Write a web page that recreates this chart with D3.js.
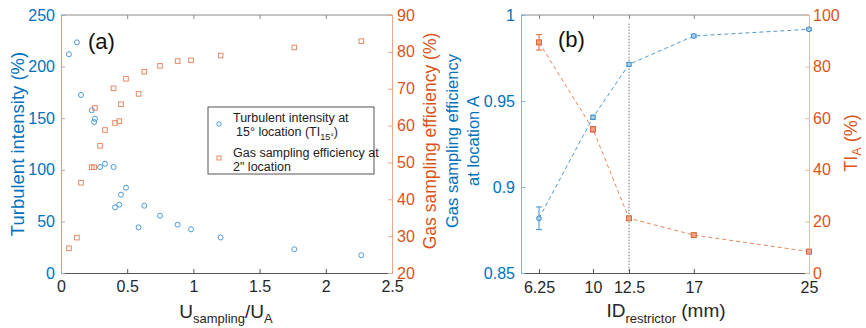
<!DOCTYPE html>
<html>
<head>
<meta charset="utf-8">
<script src="https://cdn.jsdelivr.net/npm/d3@7"></script>
<style>
  body { margin: 0; background: #fff; }
  svg { display: block; font-family: "Liberation Sans", Arial, sans-serif; }
</style>
</head>
<body>
<svg id="chart" width="866" height="328"></svg>
<script>
// ---- panel (a) data ----
var uRatio = [0.06, 0.12, 0.151, 0.232, 0.25, 0.256, 0.295, 0.332, 0.397, 0.408, 0.44,
              0.453, 0.491, 0.586, 0.629, 0.748, 0.881, 0.982, 1.206, 1.762, 2.268];
var tiValues = [212, 223.5, 172.5, 157.6, 146.3, 149.5, 102.7, 105.9, 102.7, 63.6, 66.2,
                75.9, 82.7, 44.3, 65.2, 55.5, 46.8, 42.3, 34.4, 23, 17.2];
var effValues = [26.7, 29.6, 44.5, 48.7, 48.7, 64.8, 54.5, 58.8, 70.1, 60.7, 61.2,
                 65.8, 72.7, 68.6, 74.6, 76.2, 77.5, 77.7, 79.0, 81.2, 82.9];
var aXTicks = [0, 0.5, 1, 1.5, 2, 2.5];
var aLeftTicks = [0, 50, 100, 150, 200, 250];
var aRightTicks = [20, 30, 40, 50, 60, 70, 80, 90];

// ---- panel (b) data ----
var restrictorID = [6.25, 10, 12.5, 17, 25];
var effA = [0.8818, 0.9405, 0.9713, 0.9878, 0.9917];
var effAErr = [0.0066, 0.0012, 0.001, 0.001, 0.0008];
var tiA = [89.4, 55.7, 21.2, 14.7, 8.3];
var tiAErr = [3, 1, 0.6, 0.5, 0.4];
var bXTicks = [6.25, 10, 12.5, 17, 25];
var bLeftTicks = [0.85, 0.9, 0.95, 1];
var bRightTicks = [0, 20, 40, 60, 80, 100];

var blue = "#0072BD", orange = "#D95319", dark = "#262626";
var svg = d3.select("#chart");

function styleAxis(g, color, lineColor) {
  g.select(".domain").attr("stroke", lineColor).attr("stroke-width", 1);
  g.selectAll(".tick line").attr("stroke", lineColor);
  g.selectAll(".tick text").attr("fill", color).style("font-size", "16px");
}

// ================= panel (a) =================
var A = { left: 61, right: 392, top: 15, bottom: 273 };
var xa = d3.scaleLinear().domain([0, 2.5]).range([A.left, A.right]);
var ya = d3.scaleLinear().domain([0, 250]).range([A.bottom, A.top]);
var yaR = d3.scaleLinear().domain([20, 90]).range([A.bottom, A.top]);

// top frame
svg.append("line").attr("x1", A.left).attr("x2", A.right).attr("y1", A.top).attr("y2", A.top)
  .attr("stroke", "#8a8a8a");
svg.append("g").attr("transform", "translate(0," + A.top + ")")
  .call(d3.axisTop(xa).tickValues(aXTicks).tickSize(-4).tickFormat(""))
  .call(function (g) { g.select(".domain").remove(); g.selectAll(".tick line").attr("stroke", "#8a8a8a"); });

svg.append("g").attr("transform", "translate(0," + A.bottom + ")")
  .call(d3.axisBottom(xa).tickValues(aXTicks).tickSize(-4).tickPadding(8).tickFormat(function (d) { return String(d); }))
  .call(function (g) { styleAxis(g, dark, "#555"); });

svg.append("g").attr("transform", "translate(" + A.left + ",0)")
  .call(d3.axisLeft(ya).tickValues(aLeftTicks).tickSize(-4).tickPadding(6))
  .call(function (g) { styleAxis(g, blue, "#7fb3dd"); });

svg.append("g").attr("transform", "translate(" + A.right + ",0)")
  .call(d3.axisRight(yaR).tickValues(aRightTicks).tickSize(-4).tickPadding(5))
  .call(function (g) { styleAxis(g, orange, "#eba88a"); });

// scatter: gas sampling efficiency (squares, right axis)
svg.append("g").selectAll("rect")
  .data(uRatio.map(function (u, i) { return { x: u, y: effValues[i] }; }))
  .enter().append("rect")
  .attr("x", function (d) { return xa(d.x) - 2.3; })
  .attr("y", function (d) { return yaR(d.y) - 2.3; })
  .attr("width", 4.6).attr("height", 4.6)
  .attr("fill", "none").attr("stroke", "#e58a63").attr("stroke-width", 1);

// scatter: turbulent intensity (circles, left axis)
svg.append("g").selectAll("circle")
  .data(uRatio.map(function (u, i) { return { x: u, y: tiValues[i] }; }))
  .enter().append("circle")
  .attr("cx", function (d) { return xa(d.x); })
  .attr("cy", function (d) { return ya(d.y); })
  .attr("r", 2.5)
  .attr("fill", "none").attr("stroke", "#4d9bd6").attr("stroke-width", 1);

svg.append("text").attr("x", 88).attr("y", 49).style("font-size", "22px").attr("fill", "#111").text("(a)");

// legend
var leg = svg.append("g").attr("transform", "translate(208,107)");
leg.append("rect").attr("width", 166).attr("height", 67).attr("fill", "#fff").attr("stroke", "#555").attr("stroke-width", 1);
leg.append("circle").attr("cx", 11).attr("cy", 17).attr("r", 2.2).attr("fill", "none").attr("stroke", "#4d9bd6");
leg.append("rect").attr("x", 9).attr("y", 49).attr("width", 4).attr("height", 4).attr("fill", "none").attr("stroke", "#e58a63");
var lt = leg.append("g").style("font-size", "12.5px").attr("fill", "#222");
lt.append("text").attr("x", 25).attr("y", 15).text("Turbulent intensity at");
var l2 = lt.append("text").attr("x", 28).attr("y", 29);
l2.append("tspan").text("15° location (TI");
l2.append("tspan").attr("dy", 4).style("font-size", "9px").text("15°");
l2.append("tspan").attr("dy", -4).text(")");
lt.append("text").attr("x", 25).attr("y", 50).text("Gas sampling efficiency at");
lt.append("text").attr("x", 25).attr("y", 64).text("2\" location");

// axis titles (a)
svg.append("text").attr("transform", "translate(24,144) rotate(-90)")
  .attr("text-anchor", "middle").style("font-size", "18.5px").attr("fill", blue)
  .text("Turbulent intensity (%)");
svg.append("text").attr("transform", "translate(436,141) rotate(-90)")
  .attr("text-anchor", "middle").style("font-size", "17.5px").attr("fill", orange)
  .text("Gas sampling efficiency (%)");
var xla = svg.append("text").attr("x", 226).attr("y", 318).attr("text-anchor", "middle")
  .style("font-size", "19px").attr("fill", dark);
xla.append("tspan").text("U");
xla.append("tspan").attr("dy", 5).style("font-size", "13px").text("sampling");
xla.append("tspan").attr("dy", -5).text("/U");
xla.append("tspan").attr("dy", 5).style("font-size", "13px").text("A");

// ================= panel (b) =================
var B = { left: 521, right: 809, top: 15, bottom: 273 };
var xb = d3.scaleLinear().domain([5, 25]).range([B.left, B.right]);
var yb = d3.scaleLinear().domain([0.85, 1]).range([B.bottom, B.top]);
var ybR = d3.scaleLinear().domain([0, 100]).range([B.bottom, B.top]);

svg.append("line").attr("x1", B.left).attr("x2", B.right).attr("y1", B.top).attr("y2", B.top)
  .attr("stroke", "#8a8a8a");
svg.append("g").attr("transform", "translate(0," + B.top + ")")
  .call(d3.axisTop(xb).tickValues(bXTicks).tickSize(-4).tickFormat(""))
  .call(function (g) { g.select(".domain").remove(); g.selectAll(".tick line").attr("stroke", "#8a8a8a"); });

svg.append("g").attr("transform", "translate(0," + B.bottom + ")")
  .call(d3.axisBottom(xb).tickValues(bXTicks).tickSize(-4).tickPadding(9).tickFormat(function (d) { return String(d); }))
  .call(function (g) { styleAxis(g, dark, "#555"); });

svg.append("g").attr("transform", "translate(" + B.left + ",0)")
  .call(d3.axisLeft(yb).tickValues(bLeftTicks).tickSize(-4).tickPadding(6).tickFormat(function (d) { return String(d); }))
  .call(function (g) { styleAxis(g, blue, "#7fb3dd"); });

svg.append("g").attr("transform", "translate(" + B.right + ",0)")
  .call(d3.axisRight(ybR).tickValues(bRightTicks).tickSize(-4).tickPadding(4))
  .call(function (g) { styleAxis(g, orange, "#f0b89a"); });

// dotted guide at 12.5 mm
svg.append("line").attr("x1", xb(12.5)).attr("x2", xb(12.5))
  .attr("y1", yb(0.995)).attr("y2", B.bottom)
  .attr("stroke", "#555").attr("stroke-width", 0.8).attr("stroke-dasharray", "1.5,1.5");

function drawSeries(xs, ys, errs, ysc, color, markerColor, shape) {
  var pts = xs.map(function (x, i) { return { x: x, y: ys[i], e: errs[i] }; });
  var g = svg.append("g");
  g.append("path").datum(pts)
    .attr("d", d3.line().x(function (d) { return xb(d.x); }).y(function (d) { return ysc(d.y); }))
    .attr("fill", "none").attr("stroke", color).attr("stroke-width", 1).attr("stroke-dasharray", "4,3");
  var eb = g.selectAll(".eb").data(pts).enter().append("g").attr("stroke", markerColor).attr("stroke-width", 1);
  eb.append("line")
    .attr("x1", function (d) { return xb(d.x); }).attr("x2", function (d) { return xb(d.x); })
    .attr("y1", function (d) { return ysc(d.y - d.e); }).attr("y2", function (d) { return ysc(d.y + d.e); });
  eb.append("line")
    .attr("x1", function (d) { return xb(d.x) - 3; }).attr("x2", function (d) { return xb(d.x) + 3; })
    .attr("y1", function (d) { return ysc(d.y - d.e); }).attr("y2", function (d) { return ysc(d.y - d.e); });
  eb.append("line")
    .attr("x1", function (d) { return xb(d.x) - 3; }).attr("x2", function (d) { return xb(d.x) + 3; })
    .attr("y1", function (d) { return ysc(d.y + d.e); }).attr("y2", function (d) { return ysc(d.y + d.e); });
  if (shape === "circle") {
    g.selectAll("circle").data(pts).enter().append("circle")
      .attr("cx", function (d) { return xb(d.x); }).attr("cy", function (d) { return ysc(d.y); })
      .attr("r", 2.4).attr("fill", "#a9cde9").attr("stroke", markerColor);
  } else {
    g.selectAll("rect.m").data(pts).enter().append("rect")
      .attr("x", function (d) { return xb(d.x) - 2.5; }).attr("y", function (d) { return ysc(d.y) - 2.5; })
      .attr("width", 5).attr("height", 5).attr("fill", "#eba283").attr("stroke", markerColor);
  }
}
drawSeries(restrictorID, tiA, tiAErr, ybR, "#e8865c", "#d9693b", "square");
drawSeries(restrictorID, effA, effAErr, yb, "#4d9bd6", "#3d8fd0", "circle");

svg.append("text").attr("x", 558).attr("y", 47).style("font-size", "22px").attr("fill", "#111").text("(b)");

// axis titles (b)
var bl = svg.append("text").attr("transform", "translate(458,141) rotate(-90)")
  .attr("text-anchor", "middle").style("font-size", "16.5px").attr("fill", blue);
bl.append("tspan").attr("x", 0).attr("y", 0).text("Gas sampling efficiency");
bl.append("tspan").attr("x", 0).attr("y", 21).text("at location A");

var br = svg.append("text").attr("transform", "translate(857,143) rotate(-90)")
  .attr("text-anchor", "middle").style("font-size", "18px").attr("fill", orange);
br.append("tspan").text("TI");
br.append("tspan").attr("dy", 4).style("font-size", "12.5px").text("A");
br.append("tspan").attr("dy", -4).text(" (%)");

var xlb = svg.append("text").attr("x", 666).attr("y", 317).attr("text-anchor", "middle")
  .style("font-size", "19px").attr("fill", dark);
xlb.append("tspan").text("ID");
xlb.append("tspan").attr("dy", 6).style("font-size", "13px").text("restrictor");
xlb.append("tspan").attr("dy", -6).text(" (mm)");
</script>
</body>
</html>
